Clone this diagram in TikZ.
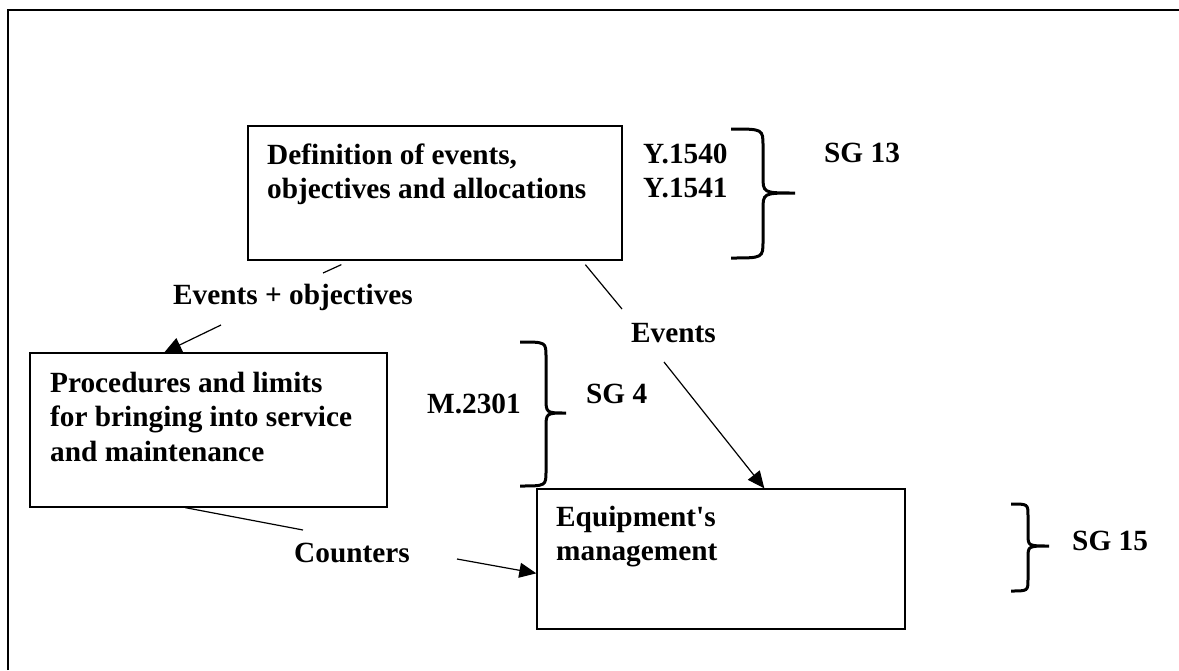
\documentclass[tikz,border=0pt]{standalone}
\usepackage{fontspec}
\newfontfamily\diagfont{Liberation Serif}
\usetikzlibrary{arrows.meta,calc}

% curly brace opening to the left: x of ends, x of spine, x of tip, y top, y tip, y bottom, bend radius
\newcommand\curlybrace[7]{%
  \draw[brc] (#1,#4) .. controls (#2,#4) .. (#2,#4+#7) -- (#2,#5-#7)
    .. controls (#2,#5) .. (#3,#5) .. controls (#2,#5) .. (#2,#5+#7)
    -- (#2,#6-#7) .. controls (#2,#6) .. (#1,#6);}

\begin{document}
\begin{tikzpicture}[x=1pt,y=-1pt,
  every node/.style={font=\diagfont\bfseries\fontsize{29.3}{34.5}\selectfont},
  box/.style={draw, line width=1.3pt, inner sep=0pt},
  txt/.style={inner sep=0pt, align=left},
  lbl/.style={inner sep=0pt, anchor=base west},
  conn/.style={line width=1.2pt},
  arr/.style={line width=1.2pt, -{Triangle[length=17pt,width=15pt]}},
  brc/.style={line width=3pt}]
\useasboundingbox (0,0) rectangle (1179,670);

% outer frame (top and left edges)
\draw[line width=2pt] (8,670) -- (8,10) -- (1179,10);

% boxes
\node[box, minimum width=374pt, minimum height=134pt] (def) at (435,193) {};
\node[box, minimum width=357pt, minimum height=154pt] (proc) at (208.5,430) {};
\node[box, minimum width=368pt, minimum height=140pt] (equip) at (721,559) {};

% box texts
\node[txt, anchor=north west] (deft) at (267,143.5) {Definition of events,\\objectives and allocations};
\node[txt, anchor=north west] (proct) at (50,371.5) {Procedures and limits\\for bringing into service\\and maintenance};
\node[txt, anchor=north west] (equipt) at (556,505.5) {Equipment's\\management};

% recommendation and study group labels
\node[txt, anchor=north west] (yrec) at (643,143.5) {Y.1540\\Y.1541};
\node[lbl] (sg13) at (824,162) {SG 13};
\node[lbl] (mrec) at (427,413) {M.2301};
\node[lbl] (sg4) at (586,403) {SG 4};
\node[lbl] (sg15) at (1072,550) {SG 15};

% connector labels
\node[lbl] (evobj) at (173,304) {Events + objectives};
\node[lbl] (ev) at (631,342) {Events};
\node[lbl] (cnt) at (294,562) {Counters};

% gap ends of the connectors around their labels
\coordinate (eo1) at (323,273);
\coordinate (eo2) at (221,325);
\coordinate (ev1) at (622,309);
\coordinate (ev2) at (664,362);
\coordinate (ct1) at (303,530);
\coordinate (ct2) at (457,559);

% connectors
\draw[conn] ($(def.south west)+(94,4)$) -- (eo1);
\draw[arr] (eo2) -- ($(proc.north west)+(135,0)$);
\draw[conn] ($(def.south west)+(338,4)$) -- (ev1);
\draw[arr] (ev2) -- ($(equip.north west)+(228,0)$);
\draw[conn] ($(proc.south west)+(156,0)$) -- (ct1);
\draw[arr] (ct2) -- ($(equip.north west)+(0,85)$);

% braces
\curlybrace{731}{763}{795}{129}{193}{258}{17}
\curlybrace{520}{546}{566}{342}{413}{486}{15}
\curlybrace{1011}{1028}{1049}{504}{546}{591}{12}
\end{tikzpicture}
\end{document}
